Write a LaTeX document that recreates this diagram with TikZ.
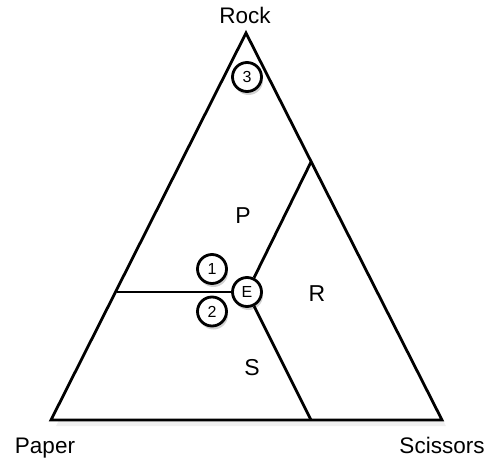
\documentclass[tikz,border=0pt]{standalone}
\usepackage{fontspec}
\setmainfont{Liberation Sans}
\usetikzlibrary{shadows}
\begin{document}
\begin{tikzpicture}[x=1pt,y=-1pt,
  edge/.style={line width=2.8pt},
  ball/.style={circle, draw, line width=2.8pt, fill=white, minimum size=29pt, inner sep=0pt,
    font=\fontsize{16}{18}\selectfont,
    drop shadow={opacity=0.35, shadow xshift=1.5pt, shadow yshift=-3.5pt}},
  corner/.style={anchor=base, font=\fontsize{22.5}{26}\selectfont},
  region/.style={anchor=base, font=\fontsize{23}{26}\selectfont}]
\useasboundingbox (0,0) rectangle (493,460);
\coordinate (T) at (246,33);
\coordinate (L) at (51,420);
\coordinate (Rt) at (442,420);
\coordinate (jl) at (117,292);
\coordinate (jr) at (311,162);
\coordinate (jb) at (311,420);
\fill[gray, opacity=0.12] (249,40) -- (446,426) -- (56,426) -- cycle;
\draw[edge, fill=white, line join=miter] (T) -- (Rt) -- (L) -- cycle;
\node[ball] (E) at (247,292) {E};
\draw[edge] (E) -- (jl);
\draw[edge] (E) -- (jr);
\draw[edge] (E) -- (jb);
\node[ball] (b1) at (212,269) {1};
\node[ball] (b2) at (212,311.5) {2};
\node[ball] (b3) at (247,77) {3};
\node[corner] (rock) at (245,24) {Rock};
\node[corner] (paper) at (45,453) {Paper};
\node[corner] (sci) at (442,453) {Scissors};
\node[region] (P) at (243,223) {P};
\node[region] (R) at (317,301) {R};
\node[region] (S) at (252,375) {S};
\end{tikzpicture}
\end{document}
